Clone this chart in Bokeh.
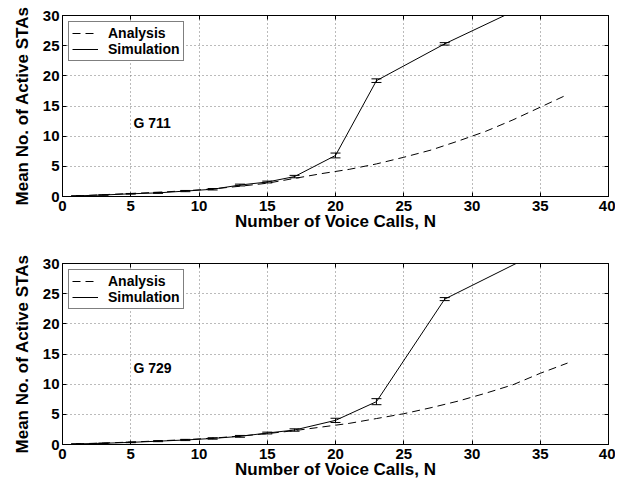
from bokeh.plotting import figure
from bokeh.layouts import column
from bokeh.models import (Range1d, LinearAxis, Whisker, ColumnDataSource,
                          TeeHead, Legend, LegendItem)
from bokeh.core.properties import value
from bokeh.embed import file_html
from bokeh.resources import INLINE

# ---------------- data ----------------
x_ticks = [0, 5, 10, 15, 20, 25, 30, 35, 40]
y_ticks = [0, 5, 10, 15, 20, 25, 30]

analysis_x = [1, 3, 5, 7, 9, 11, 13, 15, 17, 19, 21, 23, 25, 27, 29, 31, 33, 35, 37]
g711_analysis = [0.1, 0.3, 0.5, 0.7, 0.95, 1.25, 1.7, 2.2, 3.0, 3.8, 4.5, 5.4,
                 6.5, 7.7, 9.2, 10.8, 12.7, 14.8, 16.9]
g729_analysis = [0.1, 0.25, 0.4, 0.6, 0.8, 1.05, 1.4, 1.8, 2.3, 2.9, 3.5, 4.3,
                 5.1, 6.1, 7.2, 8.5, 9.9, 11.8, 13.5]

sim_x = [1, 3, 5, 7, 9, 11, 13, 15, 17, 20, 23, 28, 35]
g711_sim = [0.1, 0.25, 0.45, 0.6, 0.9, 1.2, 1.9, 2.4, 3.3, 6.8, 19.2, 25.3, 32.8]
g711_err = [0.02, 0.03, 0.05, 0.08, 0.1, 0.12, 0.15, 0.15, 0.2, 0.4, 0.3, 0.2, 0.3]
g729_sim = [0.1, 0.2, 0.35, 0.55, 0.75, 1.0, 1.35, 1.9, 2.4, 4.0, 7.1, 24.1, 32.0]
g729_err = [0.02, 0.03, 0.05, 0.08, 0.1, 0.12, 0.15, 0.15, 0.2, 0.35, 0.5, 0.25, 0.3]

FONT = "Liberation Sans"


def make_panel(an_y, sim_y, sim_err, label, label_x, label_y,
               height, b_top, b_bottom):
    p = figure(width=615, height=height, output_backend="svg",
               toolbar_location=None,
               x_range=Range1d(0, 40), y_range=Range1d(0, 30),
               min_border_left=62, min_border_right=7,
               min_border_top=b_top, min_border_bottom=b_bottom)
    p.background_fill_color = "white"
    p.border_fill_color = "white"
    p.outline_line_color = "black"
    p.outline_line_width = 1

    # grid
    for g in (p.xgrid, p.ygrid):
        g.grid_line_color = "#777777"
        g.grid_line_dash = "1 3"
        g.grid_line_width = 1

    # axes
    p.xaxis.ticker = x_ticks
    p.yaxis.ticker = y_ticks
    p.xaxis.axis_label = "Number of Voice Calls, N"
    p.yaxis.axis_label = "Mean No. of Active STAs"
    for ax in (p.xaxis[0], p.yaxis[0]):
        ax.axis_label_text_font = FONT
        ax.axis_label_text_font_style = "bold"
        ax.axis_label_text_font_size = "17px"
        ax.axis_label_text_color = "black"
        ax.major_label_text_font = FONT
        ax.major_label_text_font_style = "bold"
        ax.major_label_text_font_size = "15px"
        ax.major_label_text_color = "black"
        ax.major_tick_in = 4
        ax.major_tick_out = 0
        ax.minor_tick_line_color = None
        ax.axis_line_color = "black"
        ax.major_tick_line_color = "black"
    p.xaxis.major_label_standoff = 4
    p.xaxis.axis_label_standoff = -2
    p.yaxis.major_label_standoff = 3
    p.yaxis.axis_label_standoff = 8

    # mirrored axes for inside ticks on top/right (no labels)
    top = LinearAxis(ticker=x_ticks, major_label_text_font_size="1px",
                     major_label_text_color=None,
                     major_label_standoff=0, major_tick_in=4, major_tick_out=0,
                     minor_tick_line_color=None, axis_line_color="black")
    right = LinearAxis(ticker=y_ticks, major_label_text_font_size="1px",
                       major_label_text_color=None,
                       major_label_standoff=0, major_tick_in=4, major_tick_out=0,
                       minor_tick_line_color=None, axis_line_color="black")
    p.add_layout(top, "above")
    p.add_layout(right, "right")

    # lines
    r_a = p.line(analysis_x, an_y, line_color="black", line_width=1,
                 line_dash="8 5")
    r_s = p.line(sim_x, sim_y, line_color="black", line_width=1)

    src = ColumnDataSource(dict(
        x=sim_x,
        upper=[v + e for v, e in zip(sim_y, sim_err)],
        lower=[v - e for v, e in zip(sim_y, sim_err)],
    ))
    wk = Whisker(base="x", upper="upper", lower="lower", source=src,
                 line_color="black", line_width=1,
                 upper_head=TeeHead(size=10, line_color="black", line_width=1),
                 lower_head=TeeHead(size=10, line_color="black", line_width=1))
    p.add_layout(wk)

    p.text(x=[label_x], y=[label_y], text=[label], text_align="left",
           text_baseline="middle", text_font=value(FONT),
           text_font_style="bold", text_font_size="14px", text_color="black")

    legend = Legend(items=[LegendItem(label="Analysis", renderers=[r_a]),
                           LegendItem(label="Simulation", renderers=[r_s])],
                    location="top_left")
    legend.border_line_color = "black"
    legend.border_line_width = 1
    legend.background_fill_alpha = 1
    legend.label_text_font = FONT
    legend.label_text_font_style = "bold"
    legend.label_text_font_size = "14px"
    legend.label_text_color = "black"
    legend.glyph_width = 26
    legend.glyph_height = 12
    legend.label_height = 12
    legend.label_standoff = 10
    legend.padding = 3
    legend.spacing = 0
    legend.margin = 6
    p.add_layout(legend)
    return p


p1 = make_panel(g711_analysis, g711_sim, g711_err, "G 711", 5.2, 12.2,
                height=248, b_top=15, b_bottom=52)
p2 = make_panel(g729_analysis, g729_sim, g729_err, "G 729", 5.2, 12.6,
                height=235, b_top=15, b_bottom=39)

layout = column(p1, p2, spacing=0)
open("out.html", "w").write(file_html(layout, INLINE))
